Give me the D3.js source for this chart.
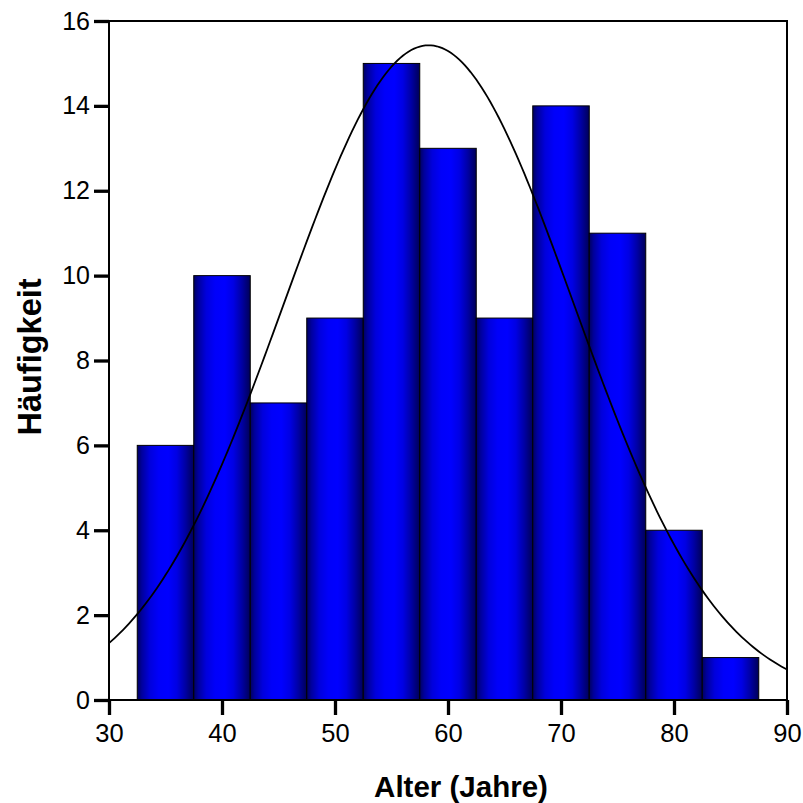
<!DOCTYPE html>
<html>
<head>
<meta charset="utf-8">
<script src="https://cdn.jsdelivr.net/npm/d3@7"></script>
<style>
  html, body { margin: 0; padding: 0; background: #fff; }
  svg { display: block; }
</style>
</head>
<body>
<svg id="chart" width="803" height="803"></svg>
<script>
// Histogram of ages (bin width 5) with a fitted normal curve
const binStarts = [32.5, 37.5, 42.5, 47.5, 52.5, 57.5, 62.5, 67.5, 72.5, 77.5, 82.5];
const binWidth = 5;
const counts = [6, 10, 7, 9, 15, 13, 9, 14, 11, 4, 1];
const xTicks = [30, 40, 50, 60, 70, 80, 90];
const yTicks = [0, 2, 4, 6, 8, 10, 12, 14, 16];
const fitMean = 58.3;
const fitSd = 12.8;

const svg = d3.select("#chart");
const plotLeft = 109, plotRight = 787, plotTop = 21, plotBottom = 700;

const x = d3.scaleLinear().domain([30, 90]).range([plotLeft, plotRight]);
const y = d3.scaleLinear().domain([0, 16]).range([plotBottom, plotTop]);

// horizontal shading of each bar: dark edges, bright blue centre
const defs = svg.append("defs");
const grad = defs.append("linearGradient")
  .attr("id", "barShade")
  .attr("x1", "0").attr("x2", "1").attr("y1", "0").attr("y2", "0");
[[0, "#000060"], [0.08, "#00009c"], [0.22, "#0000dc"], [0.38, "#0000fa"],
 [0.55, "#0000ff"], [0.7, "#0000e4"], [0.85, "#0000a4"], [1, "#000058"]]
  .forEach(([o, c]) => grad.append("stop").attr("offset", o).attr("stop-color", c));

const bins = binStarts.map((s, i) => ({ x0: s, x1: s + binWidth, n: counts[i] }));

svg.append("g").selectAll("rect")
  .data(bins)
  .join("rect")
  .attr("x", d => x(d.x0))
  .attr("y", d => y(d.n))
  .attr("width", d => x(d.x1) - x(d.x0))
  .attr("height", d => y(0) - y(d.n))
  .attr("fill", "url(#barShade)")
  .attr("stroke", "#000")
  .attr("stroke-width", 1);

// expected frequencies of the normal fit
const total = d3.sum(counts);
const normal = v => total * binWidth / (fitSd * Math.sqrt(2 * Math.PI)) *
  Math.exp(-0.5 * ((v - fitMean) / fitSd) ** 2);
const curveX = d3.range(30, 90.001, 0.25);
svg.append("path")
  .datum(curveX)
  .attr("fill", "none")
  .attr("stroke", "#000")
  .attr("stroke-width", 1.8)
  .attr("d", d3.line().x(v => x(v)).y(v => y(normal(v))));

// frame
svg.append("rect")
  .attr("x", plotLeft).attr("y", plotTop)
  .attr("width", plotRight - plotLeft).attr("height", plotBottom - plotTop)
  .attr("fill", "none").attr("stroke", "#000").attr("stroke-width", 2);

const font = "'Liberation Sans', Arial, Helvetica, sans-serif";

// x axis
const xAxis = svg.append("g")
  .attr("transform", `translate(0,${plotBottom})`)
  .call(d3.axisBottom(x).tickValues(xTicks).tickSize(15).tickPadding(9).tickFormat(d3.format("d")));
xAxis.select(".domain").remove();
xAxis.selectAll(".tick line").attr("stroke", "#000").attr("stroke-width", 3.3);
xAxis.selectAll(".tick text").attr("font-family", font).attr("font-size", 25.5).attr("fill", "#000");

// y axis
const yAxis = svg.append("g")
  .attr("transform", `translate(${plotLeft},0)`)
  .call(d3.axisLeft(y).tickValues(yTicks).tickSize(15).tickPadding(4).tickFormat(d3.format("d")));
yAxis.select(".domain").remove();
yAxis.selectAll(".tick line").attr("stroke", "#000").attr("stroke-width", 3.3);
yAxis.selectAll(".tick text").attr("font-family", font).attr("font-size", 25).attr("fill", "#000");

// axis titles
svg.append("text")
  .attr("x", 461).attr("y", 797)
  .attr("text-anchor", "middle")
  .attr("font-family", font).attr("font-weight", "bold").attr("font-size", 29.5)
  .text("Alter (Jahre)");

svg.append("text")
  .attr("transform", "translate(41,357) rotate(-90)")
  .attr("text-anchor", "middle")
  .attr("font-family", font).attr("font-weight", "bold").attr("font-size", 32.5)
  .text("Häufigkeit");
</script>
</body>
</html>
